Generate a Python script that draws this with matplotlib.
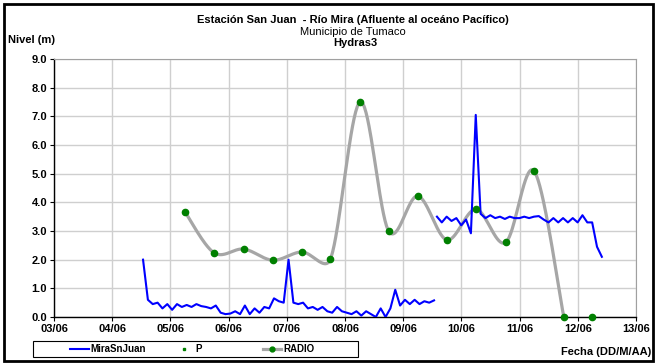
import numpy as np
import matplotlib
matplotlib.use("Agg")
import matplotlib.pyplot as plt
from matplotlib.lines import Line2D
from matplotlib.patches import Rectangle

plt.rcParams['font.family'] = ['Liberation Sans', 'DejaVu Sans']

# ---------------- data ----------------
x_ticks = [3, 4, 5, 6, 7, 8, 9, 10, 11, 12, 13]
x_labels = ["03/06", "04/06", "05/06", "06/06", "07/06", "08/06",
            "09/06", "10/06", "11/06", "12/06", "13/06"]
y_ticks = [0, 1, 2, 3, 4, 5, 6, 7, 8, 9]

# MiraSnJuan (sensor level), two segments, sampling every 2 hours
mira1_start = 4.53
mira1_vals = [2.0, 0.6, 0.45, 0.5, 0.3, 0.45, 0.25, 0.45, 0.35, 0.42,
              0.35, 0.45, 0.38, 0.35, 0.3, 0.4, 0.15, 0.1, 0.12, 0.2,
              0.1, 0.4, 0.1, 0.3, 0.15, 0.35, 0.3, 0.65, 0.55, 0.5,
              2.0, 0.5, 0.45, 0.5, 0.3, 0.35, 0.25, 0.35, 0.2, 0.15,
              0.35, 0.2, 0.15, 0.1, 0.2, 0.05, 0.2, 0.1, 0.0, 0.3,
              0.0, 0.3, 0.95, 0.4, 0.6, 0.45, 0.6, 0.45, 0.55, 0.5, 0.58]
mira2_start = 9.58
mira2_vals = [3.5, 3.3, 3.5, 3.35, 3.45, 3.2, 3.4, 2.92, 7.05, 3.6,
              3.45, 3.55, 3.45, 3.5, 3.42, 3.5, 3.45, 3.45, 3.5, 3.45,
              3.5, 3.52, 3.4, 3.3, 3.45, 3.3, 3.45, 3.3, 3.45, 3.3,
              3.55, 3.3, 3.3, 2.45, 2.1]
mira_step = 1.0 / 12.0

# RADIO (manual readings)
radio_x = [5.25, 5.75, 6.26, 6.76, 7.26, 7.75, 8.26, 8.75, 9.25, 9.75,
           10.25, 10.76, 11.25, 11.76]
radio_y = [3.67, 2.24, 2.37, 1.98, 2.27, 2.02, 7.5, 3.0, 4.22, 2.69,
           3.76, 2.6, 5.09, 0.0]

# P
p_x = [12.25]
p_y = [0.0]

# ---------------- helpers ----------------
def smooth_curve(xs, ys, kx, ky, n=40):
    """Excel-like smoothed line: Bezier segments with tangent arms
    of 1/6 of the neighbour chord, capped at half the segment length
    (computed in screen-proportional space)."""
    P = np.column_stack([np.asarray(xs, float) * kx, np.asarray(ys, float) * ky])
    P = np.vstack([P[0], P, P[-1]])
    t = np.linspace(0, 1, n)[:, None]
    out = []
    for i in range(1, len(P) - 2):
        p0, p1, p2, p3 = P[i - 1], P[i], P[i + 1], P[i + 2]
        d12 = np.linalg.norm(p2 - p1)
        v1 = p2 - p0
        v2 = p3 - p1
        n1 = np.linalg.norm(v1)
        n2 = np.linalg.norm(v2)
        a1 = min(n1 / 6.0, d12 / 2.0)
        a2 = min(n2 / 6.0, d12 / 2.0)
        c1 = p1 + (v1 / n1 * a1 if n1 > 0 else 0)
        c2 = p2 - (v2 / n2 * a2 if n2 > 0 else 0)
        b = (1 - t) ** 3 * p1 + 3 * (1 - t) ** 2 * t * c1 + 3 * (1 - t) * t ** 2 * c2 + t ** 3 * p2
        out.append(b)
    out = np.vstack(out)
    return out[:, 0] / kx, out[:, 1] / ky

# ---------------- figure ----------------
W, H = 658, 364
fig = plt.figure(figsize=(W / 100, H / 100), dpi=100)
ax = fig.add_axes([54 / W, 1 - 317 / H, (636 - 54) / W, (317 - 59) / H])

ax.set_xlim(3, 13)
ax.set_ylim(0, 9)
ax.set_xticks(x_ticks)
ax.set_xticklabels(x_labels)
ax.set_yticks(y_ticks)
ax.set_yticklabels([f"{v:.1f}" for v in y_ticks])
ax.grid(True, color="#cfcfcf", linewidth=1.0)
ax.set_axisbelow(True)
for lab in ax.get_xticklabels() + ax.get_yticklabels():
    lab.set_fontweight("bold")
    lab.set_fontsize(8)
ax.tick_params(axis="both", direction="out", length=3, width=0.8, color="black", pad=2)
ax.spines["left"].set_color("black")
ax.spines["bottom"].set_color("black")
ax.spines["left"].set_linewidth(1.0)
ax.spines["bottom"].set_linewidth(1.0)
ax.spines["top"].set_color("#a0a0a0")
ax.spines["right"].set_color("#a0a0a0")

# pixel scale of data units
bbox = ax.get_window_extent()
kx = bbox.width / (13 - 3)
ky = bbox.height / (9 - 0)

# RADIO smooth line
sx, sy = smooth_curve(radio_x, radio_y, kx, ky)
ax.plot(sx, sy, color="#a6a6a6", linewidth=2.3, zorder=3, solid_capstyle="round")
ax.plot(radio_x, radio_y, linestyle="none", marker="o", markersize=4.5,
        color="#008000", zorder=5, clip_on=False)

# MiraSnJuan
m1x = mira1_start + mira_step * np.arange(len(mira1_vals))
m2x = mira2_start + mira_step * np.arange(len(mira2_vals))
ax.plot(m1x, mira1_vals, color="#0000ff", linewidth=1.5, zorder=4)
ax.plot(m2x, mira2_vals, color="#0000ff", linewidth=1.5, zorder=4)

# P
ax.plot(p_x, p_y, linestyle="none", marker="o", markersize=4.5,
        color="#008000", zorder=5, clip_on=False)

# titles
fig.text(353 / W, 1 - 20 / H, "Estación San Juan  - Río Mira (Afluente al oceáno Pacífico)",
         ha="center", va="center", fontsize=8, fontweight="bold")
fig.text(353 / W, 1 - 32 / H, "Municipio de Tumaco", ha="center", va="center", fontsize=8)
fig.text(355 / W, 1 - 43 / H, "Hydras3", ha="center", va="center", fontsize=8, fontweight="bold")
fig.text(8 / W, 1 - 40 / H, "Nivel (m)", ha="left", va="center", fontsize=8, fontweight="bold")
fig.text(651 / W, 1 - 352 / H, "Fecha (DD/M/AA)", ha="right", va="center",
         fontsize=8, fontweight="bold")

# legend (drawn as figure artists, Excel-style)
ly = 1 - 349 / H
fig.patches.append(Rectangle((33 / W, 1 - 357 / H), (358 - 33) / W, 16 / H,
                             transform=fig.transFigure, fill=False,
                             edgecolor="black", linewidth=0.8))
fig.lines.append(Line2D([70 / W, 89 / W], [ly, ly], transform=fig.transFigure,
                        color="#0000ff", linewidth=1.5))
fig.text(90 / W, ly, "MiraSnJuan", ha="left", va="center", fontsize=7, fontweight="bold")
fig.lines.append(Line2D([184 / W], [ly], transform=fig.transFigure, linestyle="none",
                        marker="s", markersize=2, color="#008000"))
fig.text(195 / W, ly, "P", ha="left", va="center", fontsize=7, fontweight="bold")
fig.lines.append(Line2D([263 / W, 281 / W], [ly, ly], transform=fig.transFigure,
                        color="#a6a6a6", linewidth=2.3))
fig.lines.append(Line2D([272 / W], [ly], transform=fig.transFigure, linestyle="none",
                        marker="o", markersize=3.5, color="#008000"))
fig.text(283 / W, ly, "RADIO", ha="left", va="center", fontsize=7, fontweight="bold")

# outer frame
fig.patches.append(Rectangle((4 / W, 3 / H), 649 / W, 357 / H, transform=fig.transFigure,
                             fill=False, edgecolor="black", linewidth=2.0))

fig.savefig("out.png", dpi=100)
